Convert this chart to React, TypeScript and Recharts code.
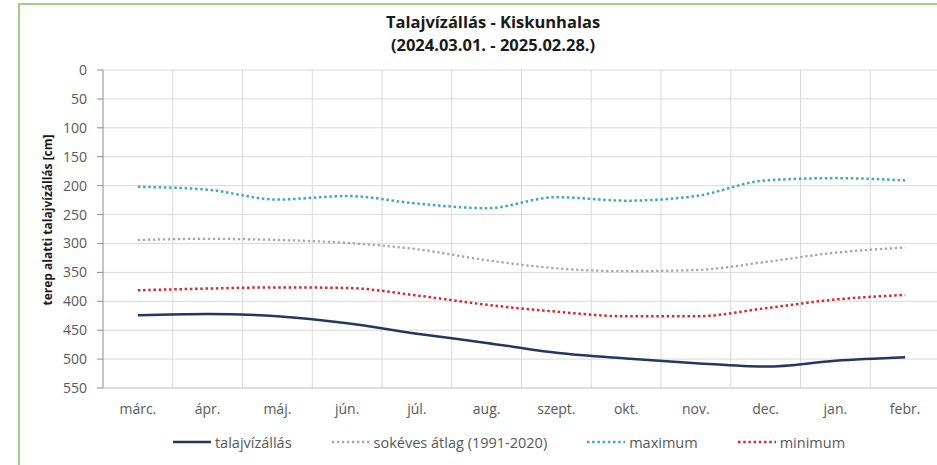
import React from 'react';
import { LineChart, Line, XAxis, YAxis, CartesianGrid, ReferenceLine, Legend } from 'recharts';

const months = ['márc.', 'ápr.', 'máj.', 'jún.', 'júl.', 'aug.', 'szept.', 'okt.', 'nov.', 'dec.', 'jan.', 'febr.'];
const talajvizallas = [424, 422, 426, 438, 456, 472, 489, 499, 507, 513, 503, 497];
const sokevesAtlag = [294, 292, 294, 299, 310, 329, 343, 348, 346, 332, 316, 307];
const maximum = [202, 207, 224, 218, 231, 239, 220, 226, 218, 191, 187, 191];
const minimum = [381, 378, 376, 377, 390, 406, 418, 426, 426, 412, 397, 389];
const yTicks = [0, 50, 100, 150, 200, 250, 300, 350, 400, 450, 500, 550];

const data = months.map((m, i) => ({
  idx: i,
  month: m,
  talajvizallas: talajvizallas[i],
  atlag: sokevesAtlag[i],
  maximum: maximum[i],
  minimum: minimum[i],
}));
const xTicks = months.map((_, i) => i);
const boundaries = months.slice(0, -1).map((_, i) => i + 0.5);

const FONT = '"Open Sans", "Noto Sans", sans-serif';

const series = [
  { key: 'talajvizallas', name: 'talajvízállás', color: '#22385e', width: 2.5, dash: undefined },
  { key: 'atlag', name: 'sokéves átlag (1991-2020)', color: '#a6a6a6', width: 2.3, dash: '2.3 2.7' },
  { key: 'maximum', name: 'maximum', color: '#3aa6c8', width: 2.5, dash: '2.5 2.7' },
  { key: 'minimum', name: 'minimum', color: '#d42a2f', width: 2.5, dash: '2.5 2.7' },
];

const LegendContent = () => (
  <div
    style={{
      height: 30,
      display: 'flex',
      justifyContent: 'center',
      alignItems: 'center',
      fontFamily: FONT,
      fontSize: 14.5,
      color: '#595959',
    }}
  >
    {series.map((s, i) => (
      <div key={s.key} style={{ display: 'flex', alignItems: 'center', marginRight: i < series.length - 1 ? 40 : 0 }}>
        <svg width={38} height={6} style={{ marginRight: 4 }}>
          <line x1={0} y1={3} x2={38} y2={3} stroke={s.color} strokeWidth={s.width} strokeDasharray={s.dash} />
        </svg>
        <span>{s.name}</span>
      </div>
    ))}
  </div>
);

const YLabel = (props: any) => {
  const vb = props.viewBox || {};
  const cx = (vb.x ?? 0) + 47;
  const cy = (vb.y ?? 0) + (vb.height ?? 0) / 2 - 9;
  return (
    <text
      x={cx}
      y={cy}
      transform={`rotate(-90, ${cx}, ${cy})`}
      textAnchor="middle"
      dominantBaseline="central"
      fontFamily={FONT}
      fontWeight={700}
      fontSize={12}
      fill="#1a1a1a"
    >
      terep alatti talajvízállás [cm]
    </text>
  );
};

export default function App() {
  return (
    <div
      style={{
        position: 'fixed',
        left: 0,
        top: 0,
        width: 937,
        height: 465,
        overflow: 'hidden',
        background: '#ffffff',
        fontFamily: FONT,
      }}
    >
      <div
        style={{
          position: 'absolute',
          left: 18,
          top: 3,
          width: 2000,
          height: 2000,
          borderLeft: '2px solid #9fd08a',
          borderTop: '2px solid #9fd08a',
        }}
      />
      <div
        style={{
          position: 'absolute',
          left: 293,
          top: 10,
          width: 400,
          textAlign: 'center',
          fontFamily: FONT,
          fontWeight: 700,
          fontSize: 16.5,
          lineHeight: '23px',
          color: '#1a1a1a',
        }}
      >
        <div>Talajvízállás - Kiskunhalas</div>
        <div>(2024.03.01. - 2025.02.28.)</div>
      </div>
      <div style={{ position: 'absolute', left: 0, top: 0 }}>
        <LineChart width={960} height={465} data={data} margin={{ top: 70, right: 20, bottom: 8, left: 0 }}>
          <CartesianGrid vertical={false} stroke="#d9d9d9" strokeWidth={1} />
          {boundaries.map((b) => (
            <ReferenceLine key={b} x={b} stroke="#d9d9d9" strokeWidth={1} />
          ))}
          <XAxis
            dataKey="idx"
            type="number"
            domain={[-0.5, 11.5]}
            ticks={xTicks}
            interval={0}
            tickFormatter={(v: number) => months[v]}
            axisLine={{ stroke: '#d0d0d0' }}
            tickLine={false}
            tickSize={0}
            tickMargin={16}
            height={39}
            tick={{ fill: '#595959', fontSize: 14, fontFamily: FONT }}
          />
          <YAxis
            type="number"
            reversed
            domain={[0, 550]}
            ticks={yTicks}
            interval={0}
            width={103}
            tickSize={6}
            tickMargin={10}
            axisLine={{ stroke: '#8c8c8c' }}
            tickLine={{ stroke: '#8c8c8c' }}
            tick={{ fill: '#595959', fontSize: 14, fontFamily: FONT }}
            label={<YLabel />}
          />
          <Legend
            verticalAlign="bottom"
            content={<LegendContent />}
            wrapperStyle={{ left: 0, width: 1018 }}
          />
          {series.map((s) => (
            <Line
              key={s.key}
              dataKey={s.key}
              name={s.name}
              type="monotone"
              stroke={s.color}
              strokeWidth={s.width}
              strokeDasharray={s.dash}
              dot={false}
              activeDot={false}
              isAnimationActive={false}
            />
          ))}
        </LineChart>
      </div>
    </div>
  );
}
